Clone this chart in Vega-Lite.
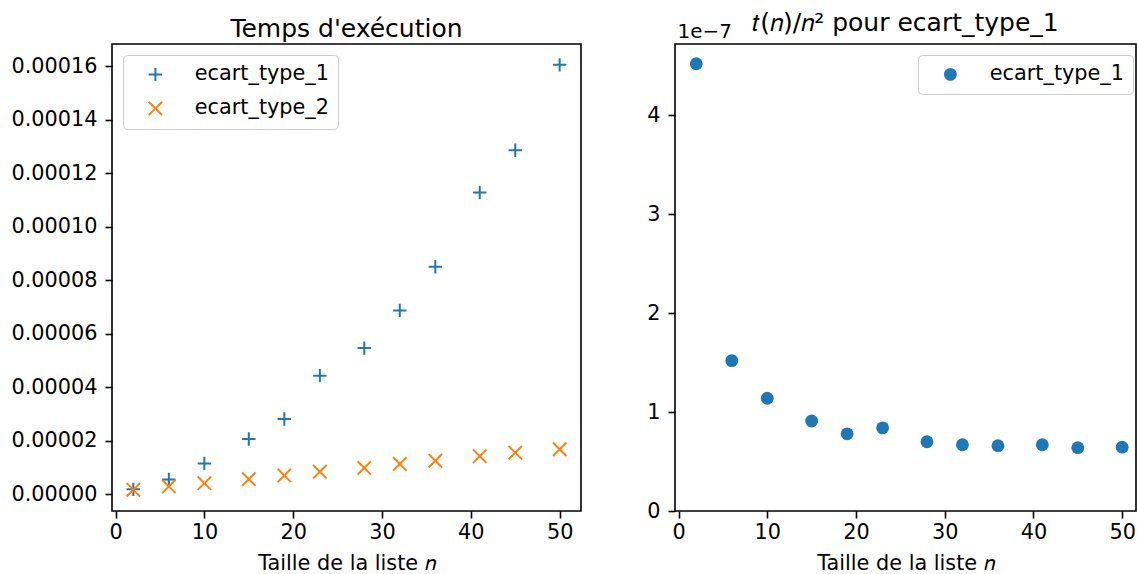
{
  "$schema": "https://vega.github.io/schema/vega-lite/v6.json",
  "padding": {"left": 10, "top": 10, "right": 0, "bottom": 0},
  "spacing": 63,
  "datasets": {
    "temps": [
      {"n": 2, "serie": "ecart_type_1", "t": 0.0000018},
      {"n": 6, "serie": "ecart_type_1", "t": 0.0000055},
      {"n": 10, "serie": "ecart_type_1", "t": 0.0000115},
      {"n": 15, "serie": "ecart_type_1", "t": 0.0000206},
      {"n": 19, "serie": "ecart_type_1", "t": 0.0000281},
      {"n": 23, "serie": "ecart_type_1", "t": 0.0000443},
      {"n": 28, "serie": "ecart_type_1", "t": 0.0000546},
      {"n": 32, "serie": "ecart_type_1", "t": 0.0000687},
      {"n": 36, "serie": "ecart_type_1", "t": 0.000085},
      {"n": 41, "serie": "ecart_type_1", "t": 0.0001128},
      {"n": 45, "serie": "ecart_type_1", "t": 0.0001286},
      {"n": 50, "serie": "ecart_type_1", "t": 0.0001605},
      {"n": 2, "serie": "ecart_type_2", "t": 0.0000016},
      {"n": 6, "serie": "ecart_type_2", "t": 0.0000029},
      {"n": 10, "serie": "ecart_type_2", "t": 0.0000041},
      {"n": 15, "serie": "ecart_type_2", "t": 0.0000056},
      {"n": 19, "serie": "ecart_type_2", "t": 0.000007},
      {"n": 23, "serie": "ecart_type_2", "t": 0.0000084},
      {"n": 28, "serie": "ecart_type_2", "t": 0.0000098},
      {"n": 32, "serie": "ecart_type_2", "t": 0.0000113},
      {"n": 36, "serie": "ecart_type_2", "t": 0.0000125},
      {"n": 41, "serie": "ecart_type_2", "t": 0.0000142},
      {"n": 45, "serie": "ecart_type_2", "t": 0.0000155},
      {"n": 50, "serie": "ecart_type_2", "t": 0.0000168}
    ],
    "ratio": [
      {"n": 2, "serie": "ecart_type_1", "r": 4.52e-7},
      {"n": 6, "serie": "ecart_type_1", "r": 1.52e-7},
      {"n": 10, "serie": "ecart_type_1", "r": 1.14e-7},
      {"n": 15, "serie": "ecart_type_1", "r": 0.91e-7},
      {"n": 19, "serie": "ecart_type_1", "r": 0.78e-7},
      {"n": 23, "serie": "ecart_type_1", "r": 0.84e-7},
      {"n": 28, "serie": "ecart_type_1", "r": 0.70e-7},
      {"n": 32, "serie": "ecart_type_1", "r": 0.67e-7},
      {"n": 36, "serie": "ecart_type_1", "r": 0.66e-7},
      {"n": 41, "serie": "ecart_type_1", "r": 0.67e-7},
      {"n": 45, "serie": "ecart_type_1", "r": 0.64e-7},
      {"n": 50, "serie": "ecart_type_1", "r": 0.645e-7}
    ]
  },
  "hconcat": [
    {
      "width": 469,
      "height": 467,
      "title": {"text": "Temps d'exécution", "offset": 2},
      "data": {"name": "temps"},
      "mark": {"type": "point", "filled": false, "strokeWidth": 2, "size": 180, "opacity": 1},
      "encoding": {
        "x": {"field": "n", "type": "quantitative",
              "scale": {"domain": [-0.4, 52.4], "nice": false, "zero": false},
              "axis": {"values": [0, 10, 20, 30, 40, 50], "title": "Taille de la liste 𝑛", "labelPadding": 4, "titlePadding": 12}},
        "y": {"field": "t", "type": "quantitative",
              "scale": {"domain": [-0.0000063, 0.0001683], "nice": false, "zero": false},
              "axis": {"values": [0, 0.00002, 0.00004, 0.00006, 0.00008, 0.0001, 0.00012, 0.00014, 0.00016], "format": ".5f", "title": null, "labelPadding": 8}},
        "color": {"field": "serie", "type": "nominal",
                  "scale": {"domain": ["ecart_type_1", "ecart_type_2"], "range": ["#1f77b4", "#ff7f0e"]},
                  "legend": {"orient": "none", "legendX": 11, "legendY": 11, "title": null, "padding": 9, "fillColor": "rgba(255,255,255,0.8)", "strokeColor": "#cccccc", "cornerRadius": 4, "labelFontSize": 20.8, "labelColor": "black", "symbolSize": 180, "symbolStrokeWidth": 2, "symbolOffset": 13, "labelOffset": 29, "rowPadding": 11}},
        "shape": {"field": "serie", "type": "nominal",
                  "scale": {"domain": ["ecart_type_1", "ecart_type_2"], "range": ["M-1,0L1,0M0,-1L0,1", "M-1,-1L1,1M-1,1L1,-1"]},
                  "legend": {"orient": "none", "legendX": 11, "legendY": 11, "title": null, "padding": 9, "fillColor": "rgba(255,255,255,0.8)", "strokeColor": "#cccccc", "cornerRadius": 4, "labelFontSize": 20.8, "labelColor": "black", "symbolSize": 180, "symbolStrokeWidth": 2, "symbolOffset": 13, "labelOffset": 29, "rowPadding": 11}}
      }
    },
    {
      "width": 461,
      "height": 467,
      "title": {"text": "𝑡(𝑛)/𝑛² pour ecart_type_1", "offset": -15},
      "data": {"name": "ratio"},
      "mark": {"type": "circle", "size": 165, "opacity": 1},
      "encoding": {
        "x": {"field": "n", "type": "quantitative",
              "scale": {"domain": [-0.4, 51.56], "nice": false, "zero": false},
              "axis": {"values": [0, 10, 20, 30, 40, 50], "title": "Taille de la liste 𝑛", "labelPadding": 4, "titlePadding": 12}},
        "y": {"field": "r", "type": "quantitative",
              "scale": {"domain": [0, 4.72e-7], "nice": false, "zero": false},
              "axis": {"values": [0, 1e-7, 2e-7, 3e-7, 4e-7], "labelExpr": "format(datum.value * 1e7, '.0f')", "labelPadding": 8,
                       "title": "1e−7", "titleAngle": 0, "titleAlign": "left", "titleBaseline": "alphabetic", "titleX": 2, "titleY": -7, "titleFontSize": 20}},
        "color": {"field": "serie", "type": "nominal",
                  "scale": {"domain": ["ecart_type_1"], "range": ["#1f77b4"]},
                  "legend": {"orient": "none", "legendX": 243, "legendY": 11, "title": null, "padding": 9, "fillColor": "rgba(255,255,255,0.8)", "strokeColor": "#cccccc", "cornerRadius": 4, "labelFontSize": 20.8, "labelColor": "black", "symbolSize": 165, "symbolOffset": 13, "labelOffset": 29}}
      }
    }
  ],
  "resolve": {
    "scale": {"color": "independent", "shape": "independent", "x": "independent", "y": "independent"},
    "legend": {"color": "independent", "shape": "independent"}
  },
  "config": {
    "font": "DejaVu Sans",
    "view": {"stroke": "black", "strokeWidth": 1.6},
    "axis": {"grid": false, "domain": false, "tickColor": "black", "tickWidth": 1.6, "tickSize": 7,
             "labelFontSize": 20.8, "labelColor": "black", "labelFont": "DejaVu Sans", "labelPadding": 6,
             "labelFlush": false, "labelOverlap": false,
             "titleFontSize": 20.8, "titleFontWeight": "normal", "titleColor": "black", "titleFont": "DejaVu Sans", "titlePadding": 4},
    "title": {"fontSize": 25, "fontWeight": "normal", "color": "black", "font": "DejaVu Sans", "anchor": "middle", "baseline": "alphabetic"},
    "legend": {"labelFont": "DejaVu Sans"}
  }
}
